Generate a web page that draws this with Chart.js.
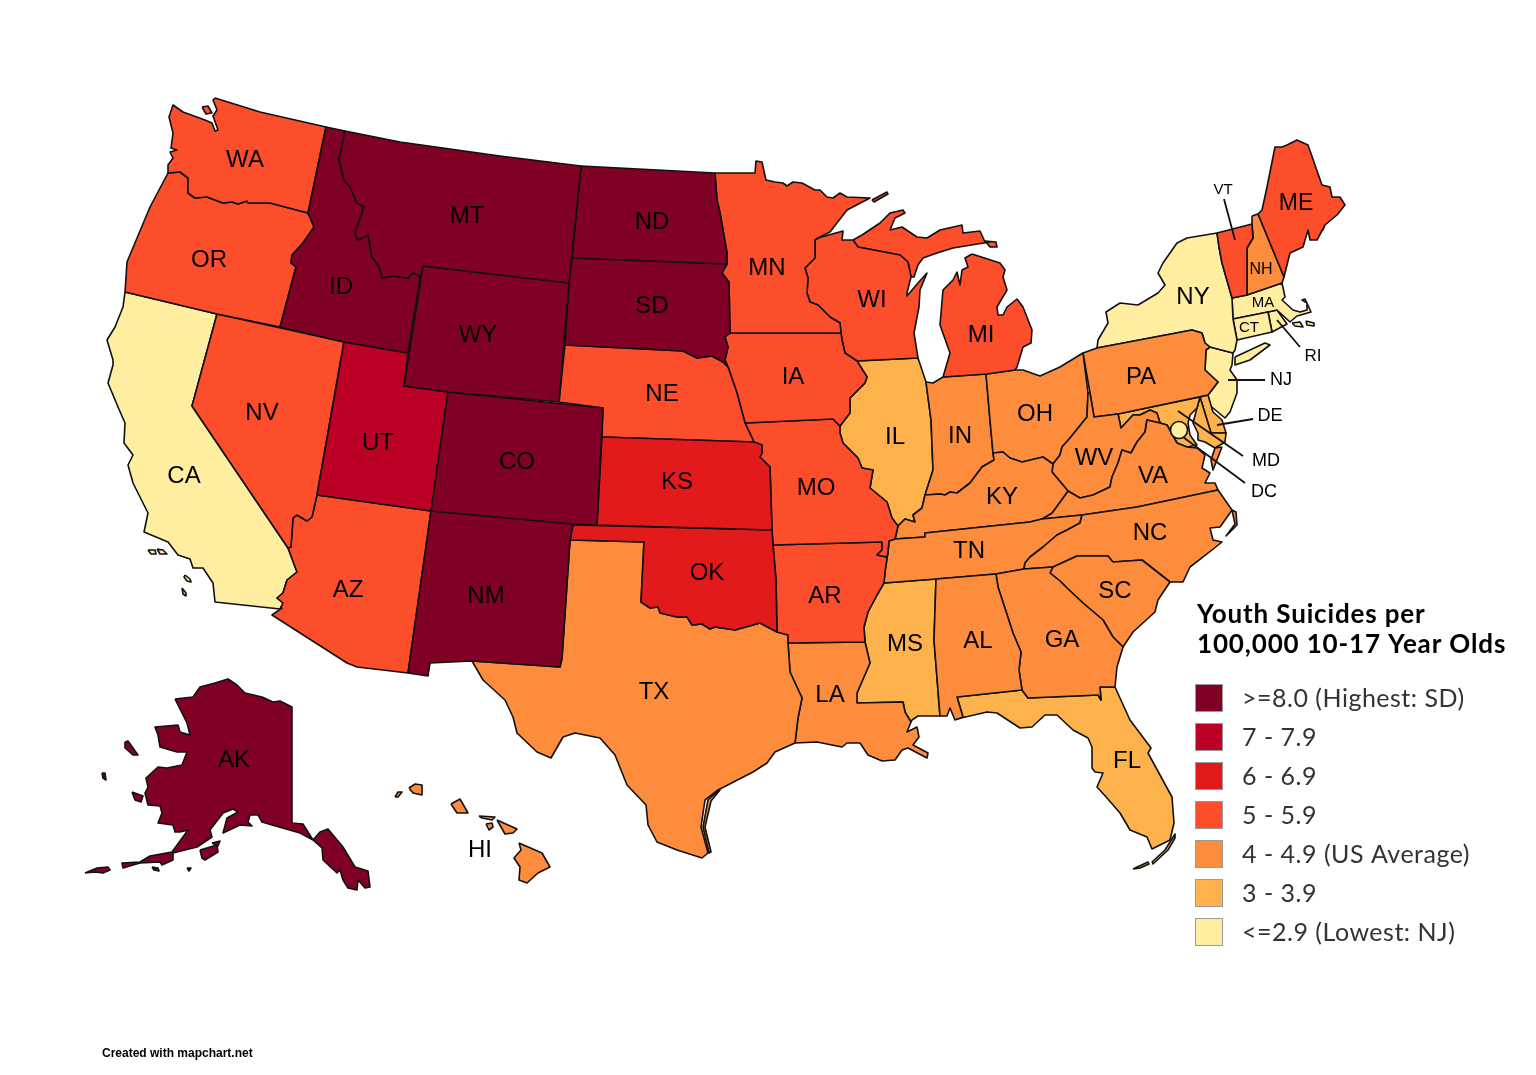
<!DOCTYPE html>
<html>
<head>
<meta charset="utf-8">
<title>Youth Suicides per 100,000 10-17 Year Olds</title>
<script src="https://cdn.jsdelivr.net/npm/chart.js@4"></script>
<style>
  body { margin: 0; background: #fff; }
  canvas { display: block; }
</style>
</head>
<body>
<canvas id="map" width="1536" height="1075"></canvas>
<script>
// rates are read off the colour classes, so they are estimates inside each class
const stateCodes = ["AK","MT","ID","WY","ND","SD","CO","NM","UT","KS","OK",
  "WA","OR","NV","AZ","NE","MN","IA","MO","AR","WI","MI","VT","ME",
  "TX","LA","AL","GA","SC","NC","TN","KY","VA","WV","OH","IN","PA","NH","HI",
  "IL","MS","FL","MD","DE","CA","NY","NJ","CT","MA","RI","DC"];
const stateRates = [10.5,8.9,8.4,9.1,8.6,11.0,8.1,8.5,7.4,6.3,6.5,
  5.2,5.6,5.4,5.7,5.5,5.1,5.3,5.6,5.5,5.2,5.0,5.1,5.5,
  4.3,4.4,4.6,4.2,4.5,4.1,4.7,4.8,4.0,4.9,4.6,4.9,4.2,4.7,4.4,
  3.4,3.5,3.6,3.2,3.3,2.7,2.4,1.9,2.6,2.2,2.5,2.8];

const legendLabels = [">=8.0 (Highest: SD)","7 - 7.9","6 - 6.9","5 - 5.9","4 - 4.9 (US Average)","3 - 3.9","<=2.9 (Lowest: NJ)"];
const legendFloors = [8,7,6,5,4,3,0];
const legendColors = ["#800026","#bd0026","#e31a1c","#fc4e2a","#fd8d3c","#feb24c","#ffeda0"];
const titleLines = ["Youth Suicides per","100,000 10-17 Year Olds"];
const creditText = "Created with mapchart.net";

// shared borders, in map units. @name walks a border forwards, ~name backwards
const borders = {
  waOr: "308,213 270,203 248,203 247,201 238,204 232,202 223,203 207,197 195,198 188,193 188,178 180,172 168,173",
  idMt: "345,131 339,159 344,180 350,187 357,203 364,207 355,233 358,240 368,235 372,257 380,268 382,278 393,276 408,278 413,273 418,275 420,279",
  idOr: "280,327 296,267 291,263 292,255 303,243 314,227 308,213",
  nvAz: "317,495 312,517 307,521 302,518 297,515 293,518 291,547 288,548",
  caAz: "280,609 283,603 277,598 283,593 287,580 297,572 288,548",
  mnWi: "818,238 815,240 815,258 805,268 808,278 807,293 810,302 818,305 830,317 840,323 841,333",
  sdMn: "727,264 722,273 729,282 730,333",
  ndMn: "715,173 717,200 720,213 727,253 727,264",
  sdNe: "565,345 683,351 697,358 712,356 723,362 728,367",
  sdIa: "730,333 725,337 728,347 725,360 728,367",
  neIa: "728,367 737,393 745,423",
  neMo: "745,423 754,442",
  ksMo: "754,442 762,445 762,453 760,457 770,467 772,530",
  iaWi: "841,333 842,340 845,353 857,361",
  iaIl: "857,361 867,377 865,383 850,398 850,413 840,426",
  ilMo: "840,426 840,433 843,443 858,458 862,468 873,470 870,488 887,502 892,518 898,526",
  ilKy: "898,526 905,519 915,522 913,515 922,508 925,495",
  ilIn: "926,382 931,420 933,470 925,495",
  inKy: "925,495 940,494 945,495 950,492 957,493 970,483 982,467 994,460 993,453",
  kyOh: "993,453 1003,452 1010,458 1022,462 1043,457 1053,464",
  kyWv: "1053,464 1052,472 1068,491",
  wvOh: "1053,464 1060,455 1062,447 1070,438 1087,417 1088,393",
  kyVa: "1068,491 1052,513 1042,519",
  kyTn: "1042,519 1030,522 925,533 925,537 895,539",
  tnWest: "895,539 889,541 888,552 885,572 884,583",
  arMs: "884,583 877,595 868,612 864,627 865,642",
  arOk: "773,545 776,580 777,632",
  okTx: "570,540 644,542 641,602 650,608 658,607 660,613 677,617 687,617 692,625 702,624 710,629 715,627 735,630 753,625 760,623 777,632",
  txLa: "788,643 790,672 802,698 798,718 795,743",
  msLa: "865,642 870,663 857,693 857,703 903,702 905,712 911,722",
  alMs: "936,579 934,640 940,716",
  alGa: "996,574 998,587 1013,633 1021,652 1019,670 1022,690",
  alFl: "1022,690 957,697 963,717",
  gaFl: "1022,690 1028,698 1098,695 1101,700 1100,687 1115,687",
  gaSc: "1053,567 1050,573 1060,581 1067,588 1083,603 1103,620 1113,637 1123,647",
  ncSc: "1053,567 1077,556 1108,556 1113,562 1142,560 1170,582",
  tnNc: "1082,515 1080,523 1067,530 1057,535 1043,547 1030,557 1025,563 1024,569",
  ncVa: "1082,515 1137,507 1218,490",
  vaWv: "1068,491 1080,498 1093,495 1110,487 1112,477 1118,463 1122,450 1131,453 1137,442 1145,432 1147,420 1160,423",
  mdWv: "1118,414 1121,428 1133,415 1140,415 1150,410 1157,413 1160,423",
  mdVa: "1160,423 1167,425 1177,443 1187,447",
  nyPa: "1097,348 1192,330 1202,333 1205,343 1210,347",
  njPa: "1210,347 1206,350 1205,370 1218,382 1208,395",
  nyVt: "1217,233 1219,247 1222,263 1232,298",
  vtNh: "1252,224 1253,238 1247,248 1247,295",
  meNh: "1258,214 1284,277"
};

// one string per closed piece of land
const stateOutlines = {
  WA: ["215,98 260,112 326,127 @waOr 168,170 168,165 173,158 170,152 177,150 171,148 173,133 169,117 173,105 183,112 205,120 212,123 215,131 218,130 213,116 217,110 213,100",
       "202,107 208,106 212,113 206,114"],
  OR: ["~waOr ~idOr 217,314 125,292 127,262 150,207"],
  ID: ["326,127 @idMt 408,353 344,342 @idOr"],
  MT: ["345,131 400,142 500,156 581,166 569,283 423,266 ~idMt"],
  WY: ["423,266 569,283 559,402 448,392 404,386"],
  UT: ["344,342 408,353 404,386 448,392 431,511 317,495"],
  NV: ["217,314 344,342 @nvAz 192,406"],
  CA: ["125,292 217,314 192,406 ~caAz 215,602 213,583 203,568 193,568 190,559 178,555 168,542 144,532 148,513 133,483 128,465 133,455 124,443 125,423 118,407 108,383 113,365 113,360 107,340 115,327 123,307",
       "148,550 155,550 156,554 151,554", "157,549 163,550 167,554 160,554",
       "185,575 190,579 191,582 187,581 184,577", "182,588 186,593 186,596 183,594"],
  AZ: ["317,495 431,511 408,673 357,667 347,663 272,615 282,608 @caAz ~nvAz"],
  CO: ["448,392 603,408 597,525 573,524 431,511"],
  NM: ["431,511 573,524 570,540 562,658 560,667 472,661 430,663 428,676 408,673"],
  KS: ["602,437 @ksMo 597,525"],
  NE: ["@sdNe @neIa @neMo 602,437 603,408 559,402"],
  SD: ["572,258 @sdMn @sdIa ~sdNe 569,283"],
  ND: ["581,166 @ndMn 572,258"],
  MN: ["715,173 755,173 756,161 762,162 766,180 775,182 783,183 787,186 793,182 802,183 815,190 820,190 827,197 833,198 840,193 847,197 870,198 847,210 830,232 @mnWi ~sdMn ~ndMn",
       "872,200 887,192 888,194 874,202"],
  WI: ["818,238 843,231 842,240 853,240 858,247 900,255 908,262 911,277 907,293 907,296 918,283 927,273 920,290 919,307 914,333 918,358 857,361 ~iaWi ~mnWi"],
  MI: ["853,240 858,247 900,255 908,262 911,277 914,277 918,265 923,258 937,253 953,248 990,242 985,242 980,231 963,233 962,225 940,230 927,238 917,237 902,227 890,230 895,218 905,213 903,210 890,213 880,223 862,235",
       "985,241 996,242 997,247 990,247",
       "972,254 1000,263 1005,270 1003,277 1007,290 997,307 998,315 1003,315 1007,307 1017,299 1023,307 1032,330 1031,343 1023,347 1017,367 1015,370 987,374 943,377 950,353 940,325 943,290 953,280 957,272 960,285 962,270 968,267 965,258"],
  IA: ["730,333 @iaWi @iaIl 833,419 745,423 ~neIa ~sdIa"],
  IL: ["857,361 918,358 @ilIn ~ilKy ~ilMo ~iaIl"],
  MO: ["745,423 833,419 @ilMo 895,539 889,541 888,552 887,557 877,555 882,550 882,542 773,545 ~ksMo ~neMo"],
  AR: ["773,545 882,542 882,550 877,555 887,557 888,552 885,572 @arMs 788,643 788,635 ~arOk"],
  OK: ["573,525 772,530 @arOk ~okTx"],
  TX: ["@okTx 788,635 @txLa 775,752 767,763 753,772 718,790 705,800 701,827 708,853 702,858 677,850 657,842 648,825 646,805 627,785 615,755 600,738 575,733 563,737 551,758 537,752 517,733 513,717 505,700 483,680 472,661 560,667 562,658",
       "719,790 708,800 703,827 709,853 711,852 705,827 711,801 720,790"],
  LA: ["788,643 @msLa 907,732 917,727 919,737 913,745 928,753 927,758 908,748 902,750 895,760 882,761 868,755 860,743 847,743 842,747 817,742 ~txLa"],
  MS: ["884,583 @alMs 918,716 912,720 ~msLa ~arMs"],
  AL: ["936,579 @alGa 957,697 963,717 955,720 950,708 947,716 940,716 ~alMs"],
  GA: ["996,574 1024,569 @gaSc 1117,667 ~gaFl ~alGa"],
  FL: ["~alFl @gaFl 1130,720 1151,748 1148,753 1172,797 1174,823 1170,840 1152,849 1147,837 1130,830 1120,813 1107,798 1097,787 1103,773 1095,772 1092,768 1092,747 1088,738 1073,730 1057,715 1045,715 1032,727 1020,728 997,713 987,712 957,719",
       "1133,869 1148,862 1149,864 1140,868", "1152,862 1165,850 1175,834 1175,838 1168,850 1153,864"],
  TN: ["895,539 925,537 925,533 1030,522 1042,519 @tnNc 996,574 936,579 ~tnWest"],
  KY: ["@ilKy @inKy @kyOh @kyWv @kyVa @kyTn"],
  IN: ["926,382 933,383 943,377 986,374 990,420 ~inKy ~ilIn"],
  OH: ["986,374 1015,370 1023,370 1040,376 1060,367 1083,353 ~wvOh ~kyOh 990,420"],
  PA: ["@nyPa @njPa 1118,414 1094,417 1090,393 1083,353"],
  WV: ["1090,393 1094,417 @mdWv ~vaWv ~kyWv @wvOh"],
  VA: ["@vaWv @mdVa 1197,448 1205,455 1202,468 1210,473 1205,483 1215,483 ~ncVa 1042,519 ~kyVa",
       "1222,447 1213,470 1211,460 1215,448"],
  NC: ["@ncVa 1232,510 1230,513 1220,527 1210,528 1213,540 1222,542 1212,550 1190,567 1183,582 ~ncSc 1024,569 ~tnNc",
       "1232,510 1236,512 1237,525 1226,536 1235,524"],
  SC: ["@ncSc 1158,600 1155,612 1133,632 ~gaSc"],
  MD: ["1118,414 1200,397 1197,408 1190,415 1188,423 1190,435 1197,445 ~mdVa ~mdWv",
       "1200,397 1211,433 1226,433 1225,442 1215,448 1205,442 1198,440 1198,433 1193,423 1197,408"],
  DE: ["1200,397 1208,395 1213,412 1222,420 1226,433 1211,433"],
  NJ: ["1210,347 1233,353 1232,365 1230,370 1237,380 1237,393 1230,412 1225,418 1207,403 1208,395 1218,382 1205,370 1206,350"],
  NY: ["1097,348 1098,340 1108,323 1106,312 1120,303 1138,305 1158,293 1165,285 1158,273 1163,263 1177,243 1187,238 @nyVt 1233,319 1237,340 1235,350 1233,353 ~nyPa",
       "1235,357 1265,343 1270,345 1250,360 1235,365"],
  VT: ["1217,233 @vtNh 1232,298 ~nyVt"],
  NH: ["1252,216 @meNh 1282,283 ~vtNh"],
  ME: ["1258,214 1262,210 1267,187 1275,147 1282,147 1287,145 1297,140 1308,145 1322,185 1330,187 1332,197 1340,197 1345,205 1337,215 1325,225 1317,240 1310,240 1308,230 1303,247 1290,253 1284,277",
       "1320,225 1325,224 1323,230"],
  MA: ["1232,298 1247,295 1282,283 1285,297 1282,300 1293,310 1300,312 1307,310 1307,303 1302,300 1305,299 1311,312 1297,316 1290,322 1277,310 1268,312 1233,319",
       "1292,323 1300,322 1303,327 1295,326", "1306,321 1314,323 1314,326 1307,325"],
  CT: ["1233,319 1268,312 1272,332 1237,340"],
  RI: ["1268,312 1277,310 1287,324 1272,332"],
  HI: ["409,788 415,784 422,785 422,795 413,793", "395,797 398,792 402,792 398,797",
       "451,804 460,799 468,813 457,813", "479,816 495,817 492,820 482,818",
       "486,824 492,823 493,827 489,830", "497,820 517,829 513,833 505,834",
       "519,843 542,853 550,867 538,873 527,883 519,880 520,867 514,858 521,850"],
  AK: ["175,699 193,697 200,687 215,683 228,679 237,685 245,693 262,697 273,702 280,701 292,707 292,823 303,824 313,840 320,832 328,829 343,847 355,867 368,871 370,887 365,888 358,880 357,890 348,888 343,880 340,870 337,873 323,860 322,848 313,840 300,833 293,831 272,825 262,822 258,815 250,815 248,822 252,826 240,825 223,833 227,818 238,812 233,809 223,813 210,830 212,837 197,847 173,853 173,860 162,865 160,862 140,863 123,868 122,863 140,862 150,856 172,852 188,830 180,832 175,832 173,825 158,823 162,813 160,806 148,805 145,793 148,787 146,778 158,767 167,768 182,765 187,752 177,752 160,747 158,735 155,727 178,725 180,732 190,735 187,723",
       "125,742 128,741 138,755 133,755 125,748", "102,773 105,773 106,780 103,778",
       "132,792 143,796 141,802 135,800", "200,850 217,845 218,852 205,860 202,858",
       "212,843 220,841 218,846", "85,873 97,868 108,867 110,870 103,873 95,872",
       "152,867 158,868 159,871 154,870", "187,868 191,868 189,871"]
};

// thin lines from the small north-east states to their labels
const leaderLines = {
  VT: "1224,199 1235,240", RI: "1277,320 1300,347", NJ: "1228,380 1265,380",
  DE: "1217,425 1253,419", MD: "1178,411 1243,456", DC: "1183,437 1245,483"
};
const dcPosition = "1179,430";

const labelAnchors = {
  WA:[245,160],OR:[209,260],ID:[341,287],MT:[467,216],ND:[652,222],SD:[652,306],WY:[478,335],NV:[262,413],
  UT:[378,443],CO:[517,462],CA:[184,476],AZ:[348,590],NM:[486,596],NE:[662,394],KS:[677,482],OK:[707,573],
  TX:[654,692],MN:[767,268],IA:[793,377],MO:[816,488],AR:[825,596],LA:[830,695],WI:[872,300],IL:[895,437],
  MS:[905,644],MI:[981,335],IN:[960,436],OH:[1035,414],KY:[1002,497],TN:[969,551],AL:[978,641],GA:[1062,640],
  FL:[1127,761],SC:[1115,591],NC:[1150,533],VA:[1153,476],WV:[1094,458],PA:[1141,377],NY:[1193,297],ME:[1296,204],
  VT:[1223,190],NH:[1261,270],MA:[1263,303],CT:[1249,328],RI:[1313,356],NJ:[1281,380],DE:[1270,416],MD:[1266,461],
  DC:[1264,492],AK:[234,760],HI:[480,850]
};
const labelSizes = { VT:15, NH:16, MA:15, CT:15, RI:17, NJ:18, DE:18, MD:18, DC:18, ME:23 };

function expand(outline) {
  const text = outline.replace(/([@~])(\w+)/g, (m, dir, name) => {
    const pts = borders[name].split(" ");
    return (dir === "~" ? pts.reverse() : pts).join(" ");
  });
  const pts = text.trim().split(/\s+/).map(p => {
    const [x, y] = p.split(",").map(Number);
    return { x, y };
  });
  return pts;
}

function rateColor(rate) {
  return legendColors[legendFloors.findIndex(floor => rate >= floor)];
}

const datasets = [];
stateCodes.forEach((code, i) => {
  if (!stateOutlines[code]) return;
  stateOutlines[code].forEach(outline => {
    const pts = expand(outline);
    pts.push(pts[0]);
    datasets.push({
      label: code,
      data: pts,
      showLine: true,
      fill: "shape",
      backgroundColor: rateColor(stateRates[i]),
      borderColor: "#111",
      borderWidth: 1.6,
      borderJoinStyle: "round",
      pointRadius: 0,
      tension: 0
    });
  });
});

// lower order draws on top, these have to sit above the states
Object.keys(leaderLines).forEach(code => {
  datasets.push({
    label: code + " leader",
    data: expand(leaderLines[code]),
    showLine: true,
    fill: false,
    borderColor: "#111",
    borderWidth: 1.8,
    pointRadius: 0,
    order: -1
  });
});

datasets.push({
  label: "DC",
  data: expand(dcPosition),
  showLine: false,
  pointRadius: 8.5,
  pointBackgroundColor: rateColor(stateRates[stateCodes.indexOf("DC")]),
  pointBorderColor: "#111",
  pointBorderWidth: 1.6,
  order: -1
});

// state codes, legend and credit are drawn as text on top of the map
const mapText = {
  id: "mapText",
  afterDatasetsDraw(chart) {
    const { ctx, scales } = chart;
    ctx.save();
    ctx.fillStyle = "#000";
    ctx.textAlign = "center";
    ctx.textBaseline = "middle";
    Object.keys(labelAnchors).forEach(code => {
      const [x, y] = labelAnchors[code];
      ctx.font = (labelSizes[code] || 24) + 'px "Liberation Sans"';
      ctx.fillText(code, scales.x.getPixelForValue(x), scales.y.getPixelForValue(y));
    });

    ctx.textAlign = "left";
    ctx.font = 'bold 26px Lato';
    ctx.letterSpacing = "0.85px";
    ctx.fillStyle = "#000";
    titleLines.forEach((line, i) => ctx.fillText(line, 1197, 615 + i * 30));

    ctx.font = '25px Lato';
    ctx.letterSpacing = "0.5px";
    legendLabels.forEach((text, i) => {
      const top = 684 + i * 39;
      ctx.fillStyle = legendColors[i];
      ctx.fillRect(1195.5, top + 0.5, 27, 27);
      ctx.strokeStyle = "#9a9a9a";
      ctx.lineWidth = 1;
      ctx.strokeRect(1195.5, top + 0.5, 27, 27);
      ctx.fillStyle = "#333";
      ctx.fillText(text, 1242, top + 15);
    });

    ctx.letterSpacing = "0px";
    ctx.font = 'bold 12px "Liberation Sans"';
    ctx.fillStyle = "#000";
    ctx.fillText(creditText, 102, 1054);
    ctx.restore();
  }
};

new Chart(document.getElementById("map"), {
  type: "scatter",
  data: { datasets },
  options: {
    responsive: false,
    animation: false,
    events: [],
    layout: { padding: 0, autoPadding: false },
    plugins: {
      legend: { display: false },
      tooltip: { enabled: false },
      title: { display: false }
    },
    scales: {
      x: { type: "linear", min: 0, max: 1536, display: false },
      y: { type: "linear", min: 0, max: 1075, reverse: true, display: false }
    }
  },
  plugins: [mapText]
});
</script>
</body>
</html>
